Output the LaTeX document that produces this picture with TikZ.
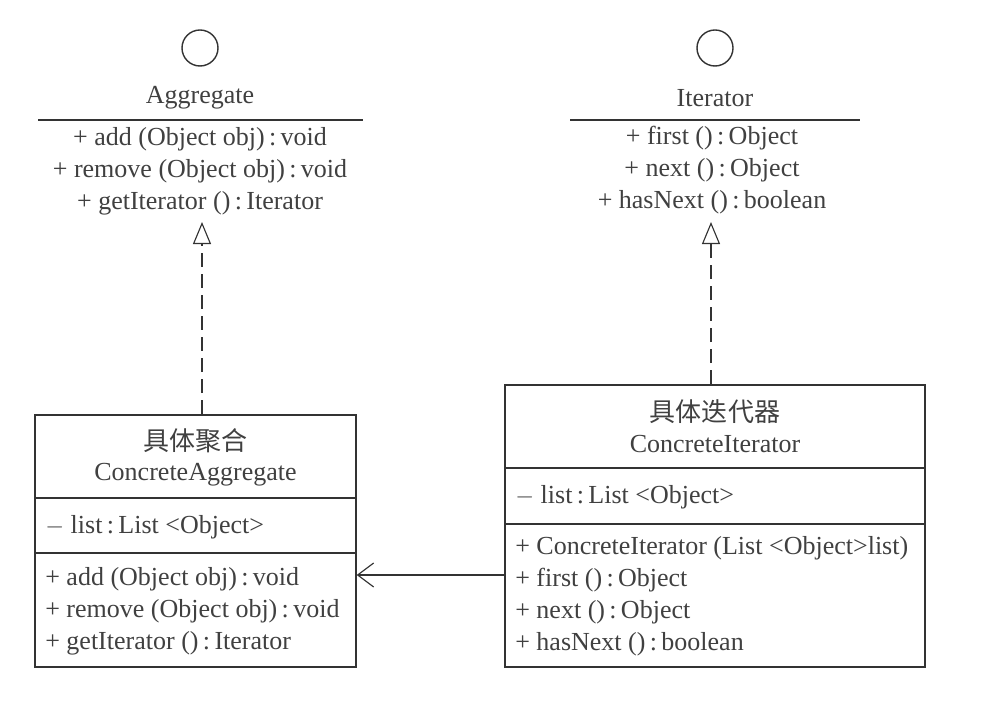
\documentclass[tikz,border=0pt]{standalone}
\usepackage{fontspec}
\setmainfont{Liberation Serif}
\newfontfamily\cjk{Noto Sans CJK SC}
\usetikzlibrary{arrows.meta}

\tikzset{
  umltxt/.style={inner sep=0pt, text=black!75, font=\fontsize{18.5}{22.7}\selectfont},
  umlbox/.style={draw=black!80, line width=1pt, rectangle, inner sep=0pt},
  lollipop/.style={draw=black!80, line width=1pt, circle, inner sep=0pt, minimum size=0.9cm},
  realize/.style={draw=black!80, line width=0.8pt, dash pattern=on 10pt off 5pt,
    -{Triangle[open, length=0.55cm, width=0.45cm, line width=0.8pt, fill=white]}},
  uses/.style={draw=black!80, line width=0.8pt, -{Straight Barb[length=0.4cm, width=0.6cm, line width=0.8pt]}}
}

\begin{document}
\begin{tikzpicture}[x=0.025cm, y=-0.025cm]
  \useasboundingbox (0,0) rectangle (1001,714);

  % Aggregate interface
  \node[lollipop] (aggc) at (200,48) {};
  \node[umltxt] (aggname) at (200,98) {Aggregate};
  \draw[black!80, line width=1pt] (38,120) -- (363,120);
  \node[umltxt, align=center] (aggops) at (200,171) {+ add (Object obj)\,:\,void\\+ remove (Object obj)\,:\,void\\+ getIterator ()\,:\,Iterator};
  \coordinate (aggtip) at (202,222);

  % Iterator interface
  \node[lollipop] (itc) at (715,48) {};
  \node[umltxt] (itname) at (715,98) {Iterator};
  \draw[black!80, line width=1pt] (570,120) -- (860,120);
  \node[umltxt, align=center] (itops) at (712,170) {+ first ()\,:\,Object\\+ next ()\,:\,Object\\+ hasNext ()\,:\,boolean};
  \coordinate (ittip) at (711,222);

  % ConcreteAggregate
  \node[umlbox, minimum width=8.025cm, minimum height=6.3cm] (ca) at (195.5,541) {};
  \node[umltxt] (catitle) at (195.5,441) {\cjk 具体聚合};
  \node[umltxt] (caname) at (195.5,475) {ConcreteAggregate};
  \draw[black!80, line width=1pt] (ca.west |- 0,498) -- (ca.east |- 0,498);
  \node[umltxt, anchor=west] (caattr) at (45,527) {$-$ list\,:\,List <Object>};
  \draw[black!80, line width=1pt] (ca.west |- 0,553) -- (ca.east |- 0,553);
  \node[umltxt, anchor=west, align=left] (caops) at (45,611) {+ add (Object obj)\,:\,void\\+ remove (Object obj)\,:\,void\\+ getIterator ()\,:\,Iterator};

  % ConcreteIterator
  \node[umlbox, minimum width=10.5cm, minimum height=7.05cm] (ci) at (715,526) {};
  \node[umltxt] (cititle) at (715,412) {\cjk 具体迭代器};
  \node[umltxt] (ciname) at (715,444) {ConcreteIterator};
  \draw[black!80, line width=1pt] (ci.west |- 0,468) -- (ci.east |- 0,468);
  \node[umltxt, anchor=west] (ciattr) at (515,497) {$-$ list\,:\,List <Object>};
  \draw[black!80, line width=1pt] (ci.west |- 0,524) -- (ci.east |- 0,524);
  \node[umltxt, anchor=west, align=left] (ciops) at (515,596.5) {+ ConcreteIterator (List <Object>list)\\+ first ()\,:\,Object\\+ next ()\,:\,Object\\+ hasNext ()\,:\,boolean};

  % connectors
  \draw[realize] (ca.north -| aggtip) -- (aggtip);
  \draw[realize] (ci.north -| ittip) -- (ittip);
  \draw[uses] (ci.west |- 0,575) -- (ca.east |- 0,575);
\end{tikzpicture}
\end{document}
